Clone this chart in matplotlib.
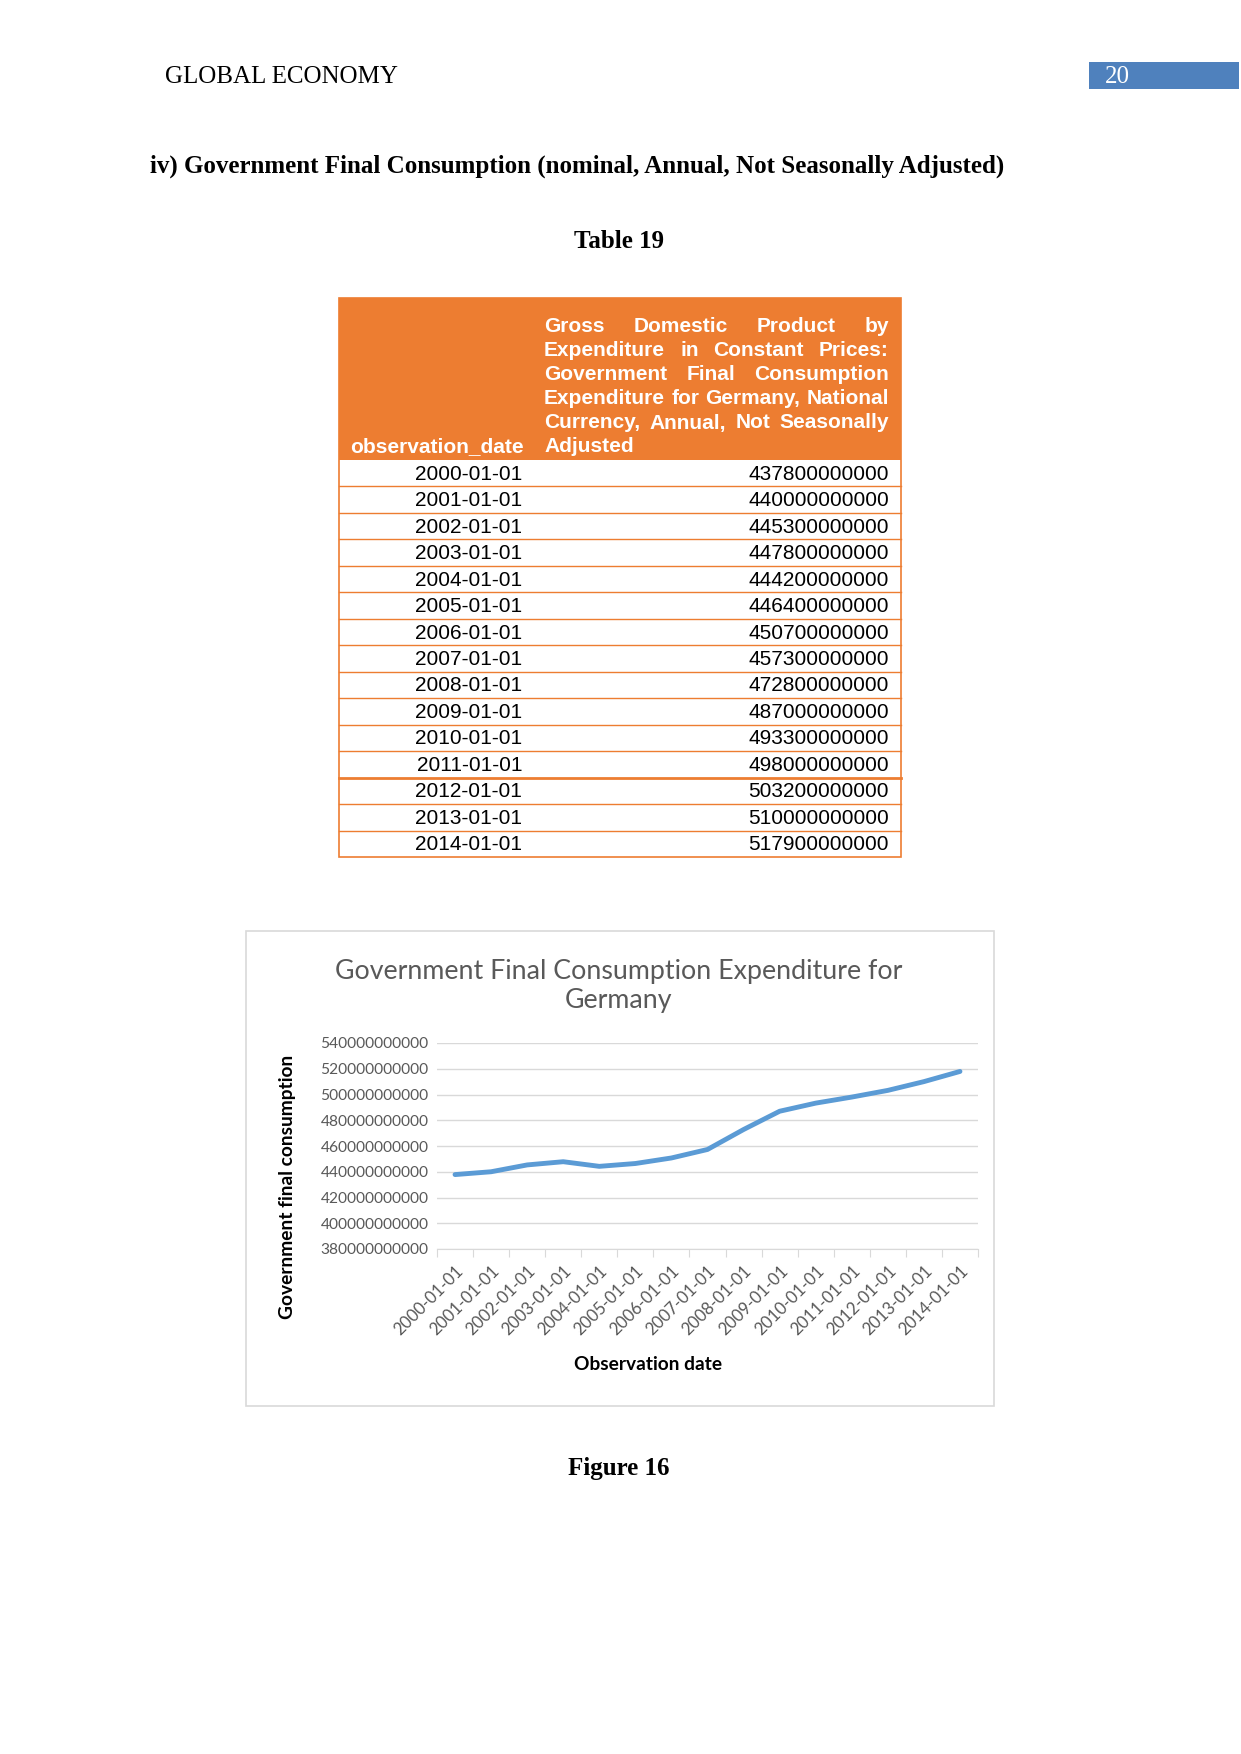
import matplotlib
matplotlib.use('Agg')
import matplotlib.pyplot as plt
from matplotlib.patches import Rectangle
from matplotlib.ticker import FixedLocator, FuncFormatter, NullFormatter

# Data
dates = ['2000-01-01', '2001-01-01', '2002-01-01', '2003-01-01', '2004-01-01',
         '2005-01-01', '2006-01-01', '2007-01-01', '2008-01-01', '2009-01-01',
         '2010-01-01', '2011-01-01', '2012-01-01', '2013-01-01', '2014-01-01']
values = [437800000000, 440000000000, 445300000000, 447800000000, 444200000000,
          446400000000, 450700000000, 457300000000, 472800000000, 487000000000,
          493300000000, 498000000000, 503200000000, 510000000000, 517900000000]
y_ticks = [380000000000, 400000000000, 420000000000, 440000000000, 460000000000,
           480000000000, 500000000000, 520000000000, 540000000000]

header_col1 = 'observation_date'
header_col2 = ['Gross Domestic Product by',
               'Expenditure in Constant Prices:',
               'Government Final Consumption',
               'Expenditure for Germany, National',
               'Currency, Annual, Not Seasonally',
               'Adjusted']

W, H = 1241, 1754
fig = plt.figure(figsize=(W / 100, H / 100), dpi=100)
fig.patch.set_facecolor('white')

def fx(x):
    return x / W

def fy(y):
    return 1 - y / H

ORANGE = '#ED7D31'
SERIF = 'Liberation Serif'
SANS = 'Liberation Sans'
CAL = 'Lato'

# page header
fig.text(fx(165), fy(77), 'GLOBAL ECONOMY', family=SERIF, fontsize=18,
         va='center', ha='left')
fig.patches.append(Rectangle((fx(1089), fy(89)), fx(150), 27 / H,
                             transform=fig.transFigure, facecolor='#4F81BD',
                             edgecolor='none'))
fig.text(fx(1105), fy(77), '20', family=SERIF, fontsize=18, color='white',
         va='center', ha='left')

fig.text(fx(150), fy(166), 'iv) Government Final Consumption (nominal, Annual, Not Seasonally Adjusted)',
         family=SERIF, fontsize=18, fontweight='bold', va='center', ha='left')
fig.text(fx(619), fy(241), 'Table 19', family=SERIF, fontsize=18,
         fontweight='bold', va='center', ha='center')

# table
t_left, t_right, t_mid = 339, 901, 533
t_top, h_bot = 298, 460
row_h = (857 - h_bot) / len(dates)
fig.patches.append(Rectangle((fx(t_left), fy(h_bot)), fx(t_right - t_left),
                             (h_bot - t_top) / H, transform=fig.transFigure,
                             facecolor=ORANGE, edgecolor='none'))
tab_bot = h_bot + row_h * len(dates)
fig.patches.append(Rectangle((fx(t_left), fy(tab_bot)), fx(t_right - t_left),
                             (tab_bot - t_top) / H, transform=fig.transFigure,
                             facecolor='none', edgecolor=ORANGE, lw=1.2))
for i, (d, v) in enumerate(zip(dates, values)):
    yc = h_bot + row_h * (i + 0.5) + 1
    fig.text(fx(522), fy(yc), d, family=SANS, fontsize=15, ha='right', va='center')
    fig.text(fx(889), fy(yc), str(v), family=SANS, fontsize=15, ha='right', va='center')
    if i < len(dates) - 1:
        yb = h_bot + row_h * (i + 1)
        fig.add_artist(plt.Line2D([fx(t_left), fx(t_right)], [fy(yb), fy(yb)],
                                  transform=fig.transFigure, color=ORANGE,
                                  lw=2 if i == 11 else 1))

fig.text(fx(350), fy(447), header_col1, family=SANS, fontsize=15,
         fontweight='bold', color='white', ha='left', va='center')

# justified header text
renderer = fig.canvas.get_renderer()
c2_left, c2_right = 544, 889
line_y = [327, 351, 375, 399, 423, 447]
for k, line in enumerate(header_col2):
    words = line.split()
    arts = [fig.text(0, fy(line_y[k]), w, family=SANS, fontsize=15,
                     fontweight='bold', color='white', ha='left', va='center')
            for w in words]
    widths = [a.get_window_extent(renderer).width for a in arts]
    if k == len(header_col2) - 1 or len(words) == 1:
        gap = 6
    else:
        gap = (c2_right - c2_left - sum(widths)) / (len(words) - 1)
    x = c2_left
    for a, wd in zip(arts, widths):
        a.set_x(fx(x))
        x += wd + gap

# chart box
box = Rectangle((fx(246), fy(1406)), fx(994 - 246), (1406 - 931) / H,
                transform=fig.transFigure, facecolor='white',
                edgecolor='#D9D9D9', lw=1.2, zorder=-1)
fig.patches.append(box)
fig.text(fx(619), fy(986), 'Government Final Consumption Expenditure for\nGermany',
         family=CAL, fontsize=19.3, color='#595959', ha='center', va='center',
         linespacing=1.2)

ax = fig.add_axes([fx(437), fy(1249), fx(978 - 437), (1249 - 1043) / H])
ax.patch.set_alpha(0)
x = list(range(len(dates)))
ax.plot(x, values, color='#5B9BD5', lw=3.5, solid_capstyle='round')
ax.set_xlim(-0.5, len(dates) - 0.5)
ax.set_ylim(y_ticks[0], y_ticks[-1])
ax.set_yticks(y_ticks)
ax.yaxis.set_major_formatter(FuncFormatter(lambda v, p: '%d' % v))
ax.grid(axis='y', color='#D9D9D9', lw=1)
ax.set_axisbelow(True)
for s in ['top', 'right', 'left']:
    ax.spines[s].set_visible(False)
ax.spines['bottom'].set_color('#D9D9D9')
ax.tick_params(axis='y', length=0, pad=6, labelsize=11.2, labelcolor='#595959')
ax.xaxis.set_major_locator(FixedLocator([i - 0.5 for i in range(len(dates) + 1)]))
ax.xaxis.set_major_formatter(NullFormatter())
ax.xaxis.set_minor_locator(FixedLocator(x))
ax.set_xticklabels(dates, minor=True, rotation=45, ha='right',
                   rotation_mode='anchor')
ax.tick_params(axis='x', which='major', length=6, color='#D9D9D9')
ax.tick_params(axis='x', which='minor', length=0, pad=10, labelsize=12.2,
               labelcolor='#595959')
for lab in ax.get_yticklabels() + ax.get_xticklabels(minor=True):
    lab.set_family(CAL)

fig.text(fx(648), fy(1364), 'Observation date', family=CAL, fontsize=13.8,
         fontweight='bold', ha='center', va='center')
fig.text(fx(288), fy(1187), 'Government final consumption', family=CAL,
         fontsize=13.8, fontweight='bold', ha='center', va='center', rotation=90)

fig.text(fx(619), fy(1469), 'Figure 16', family=SERIF, fontsize=18,
         fontweight='bold', ha='center', va='center')

fig.savefig('out.png', dpi=100)
